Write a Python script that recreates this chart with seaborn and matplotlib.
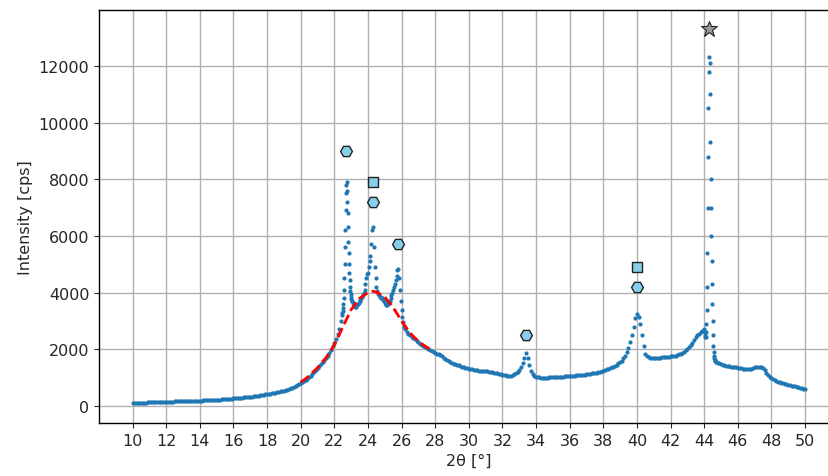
import numpy as np
import pandas as pd
import matplotlib
matplotlib.use("Agg")
import matplotlib.pyplot as plt
import seaborn as sns

# ---------------- data ----------------
# segment A: 10.0 .. 22.4, step 0.1
seg_a_start, seg_a_step = 10.0, 0.1
seg_a = [95, 100, 105, 100, 110, 110, 115, 120, 115, 125,
         125, 130, 130, 135, 135, 140, 140, 145, 145, 150,
         150, 150, 155, 155, 155, 160, 160, 160, 165, 165,
         165, 170, 170, 175, 175, 175, 180, 180, 185, 185,
         190, 190, 195, 195, 200, 200, 205, 210, 210, 215,
         220, 225, 225, 230, 235, 240, 245, 250, 255, 260,
         265, 270, 275, 280, 285, 290, 300, 305, 310, 320,
         330, 335, 345, 350, 360, 370, 380, 390, 400, 410,
         420, 430, 440, 450, 465, 475, 490, 500, 515, 530,
         545, 560, 580, 600, 620, 645, 670, 700, 730, 760,
         800, 840, 880, 920, 970, 1020, 1070, 1130, 1190, 1260,
         1330, 1400, 1470, 1540, 1610, 1690, 1780, 1880, 1990, 2110,
         2240, 2380, 2530, 2720, 3000]
# segment B1: 22.45 .. 23.05, step 0.02 (first sharp peak)
seg_b1_start, seg_b1_step = 22.45, 0.02
seg_b1 = [3200, 3280, 3360, 3450, 3600, 3800, 4100, 4500, 5000, 5600,
          6200, 6900, 7500, 7800, 7900, 7600, 7200, 6800, 6300, 5800,
          5400, 5000, 4700, 4450, 4200, 4050, 3950, 3850, 3780, 3720,
          3700]
# segment B2: 23.10 .. 26.15, step 0.05
seg_b2_start, seg_b2_step = 23.10, 0.05
seg_b2 = [3650, 3600, 3550, 3500, 3500, 3550, 3600,
          3650, 3700, 3750, 3800, 3850, 3900, 4000, 4100, 4300, 4500,
          4650, 4700, 4900, 5100, 5300, 5700, 6200, 6300, 5600, 4900,
          4500, 4200, 4050, 3950, 3900, 3850, 3850, 3800, 3800, 3750,
          3700, 3650, 3600, 3550, 3550, 3600, 3650, 3700, 3800, 3900,
          4000, 4100, 4200, 4300, 4450, 4600, 4800, 4850, 4500, 4100,
          3700, 3400, 3150, 2950, 2800]
# segment C: 26.2 .. 44.0, step 0.1
seg_c_start, seg_c_step = 26.2, 0.1
seg_c = [2700, 2600, 2550, 2500, 2450, 2400, 2350, 2300, 2250,
         2200, 2150, 2100, 2080, 2050, 2000, 1980, 1950, 1900, 1880,
         1850, 1820, 1790, 1750, 1700, 1660, 1620, 1580, 1550, 1520,
         1490, 1470, 1450, 1430, 1410, 1390, 1370, 1350, 1330, 1310,
         1300, 1290, 1280, 1270, 1260, 1250, 1245, 1240, 1235, 1230,
         1220, 1210, 1200, 1190, 1180, 1170, 1160, 1140, 1120, 1100,
         1090, 1080, 1070, 1060, 1070, 1090, 1120, 1160, 1210, 1280,
         1380, 1520, 1700, 1880, 1700, 1450, 1250, 1120, 1060, 1030,
         1020, 1010, 1000, 1000, 1000, 1000, 1000, 1010, 1010, 1020,
         1020, 1020, 1030, 1030, 1040, 1040, 1050, 1050, 1050, 1060,
         1060, 1070, 1070, 1080, 1080, 1090, 1100, 1100, 1110, 1120,
         1130, 1140, 1150, 1160, 1170, 1180, 1200, 1210, 1230, 1250,
         1270, 1290, 1310, 1330, 1360, 1390, 1420, 1460, 1500, 1550,
         1600, 1680, 1780, 1900, 2050, 2250, 2500, 2800, 3100, 3250,
         3150, 2900, 2500, 2100, 1850, 1750, 1720, 1700, 1700, 1700,
         1700, 1700, 1710, 1710, 1720, 1720, 1730, 1740, 1740, 1750,
         1760, 1770, 1780, 1800, 1820, 1850, 1880, 1920, 1970, 2020,
         2080, 2150, 2230, 2320, 2420, 2500, 2550, 2600, 2650, 2700]
# segment D: 44.02 .. 44.70, step 0.02 (main sharp peak)
seg_d_start, seg_d_step = 44.02, 0.02
seg_d = [2650, 2600, 2500, 2450, 2450, 2600, 2900, 3400, 4200, 5400,
         7000, 8800, 10500, 11800, 12300, 12100, 11000, 9300, 8000, 7000,
         6000, 5100, 4300, 3600, 3000, 2500, 2100, 1900, 1750, 1680,
         1640, 1610, 1590, 1570, 1550]
# segment E: 44.8 .. 50.0, step 0.1
seg_e_start, seg_e_step = 44.8, 0.1
seg_e = [1520, 1500, 1480, 1460, 1440, 1420, 1410, 1400, 1390, 1380,
         1370, 1360, 1350, 1340, 1330, 1320, 1310, 1300, 1300, 1310,
         1320, 1340, 1360, 1380, 1390, 1390, 1370, 1330, 1260, 1180,
         1100, 1030, 980, 940, 910, 880, 860, 840, 820, 800,
         780, 765, 750, 735, 720, 705, 690, 675, 660, 645,
         630, 615, 600]

# amorphous hump fit (red dashed)
fit_2theta = [20.0, 20.5, 21.0, 21.5, 22.0, 22.5, 23.0, 23.5, 24.0, 24.3,
              24.5, 25.0, 25.5, 26.0, 26.5, 27.0, 27.5, 27.9]
fit_int = [840, 1060, 1350, 1700, 2150, 2780, 3400, 3800, 4000, 4050,
           4020, 3850, 3480, 3000, 2580, 2280, 2070, 1950]

# phase markers
hex_2theta = [22.7, 24.3, 25.8, 33.4, 40.0]
hex_int = [9000, 7200, 5700, 2500, 4200]
sq_2theta = [24.3, 40.0]
sq_int = [7900, 4900]
star_2theta = [44.3]
star_int = [13300]

xticks = list(range(10, 51, 2))
yticks = list(range(0, 12001, 2000))

# ---------------- build table ----------------
def seg(start, step, vals):
    x = np.round(start + step * np.arange(len(vals)), 2)
    return pd.DataFrame({"two_theta": x, "intensity": vals})

df = pd.concat([seg(seg_a_start, seg_a_step, seg_a),
                seg(seg_b1_start, seg_b1_step, seg_b1),
                seg(seg_b2_start, seg_b2_step, seg_b2),
                seg(seg_c_start, seg_c_step, seg_c),
                seg(seg_d_start, seg_d_step, seg_d),
                seg(seg_e_start, seg_e_step, seg_e)], ignore_index=True)

# ---------------- plot ----------------
sns.set_style("ticks")
plt.rcParams['font.family'] = ['DejaVu Sans']

fig = plt.figure(figsize=(8.29, 4.77), dpi=100)
ax = fig.add_axes([99 / 829, 53 / 477, (838.6 - 99) / 829, 413 / 477])

sns.scatterplot(data=df, x="two_theta", y="intensity", ax=ax, s=9,
                color="#1f77b4", linewidth=0, zorder=3)
sns.lineplot(x=fit_2theta, y=fit_int, ax=ax, color="red", linestyle="--",
             linewidth=2, zorder=4)
ax.plot(hex_2theta, hex_int, linestyle="none", marker="H", markersize=8.5,
        markerfacecolor="skyblue", markeredgecolor="#222222", markeredgewidth=1, zorder=5)
ax.plot(sq_2theta, sq_int, linestyle="none", marker="s", markersize=7,
        markerfacecolor="skyblue", markeredgecolor="#222222", markeredgewidth=1, zorder=5)
ax.plot(star_2theta, star_int, linestyle="none", marker="*", markersize=12,
        markerfacecolor="#999999", markeredgecolor="#222222", markeredgewidth=0.8, zorder=5)

ax.set_xlim(8, 52)
ax.set_ylim(-600, 13976)
ax.set_xticks(xticks)
ax.set_yticks(yticks)
ax.tick_params(labelsize=11.5, direction="out", length=3.5, width=0.8)
ax.grid(True, color="#b0b0b0", linewidth=1)
ax.set_axisbelow(True)
ax.set_xlabel("2θ [°]", fontsize=11.5)
ax.set_ylabel("Intensity [cps]", fontsize=11.5)
for sp in ax.spines.values():
    sp.set_visible(True)
    sp.set_color("black")
    sp.set_linewidth(1)

fig.savefig("out.png", dpi=100)
